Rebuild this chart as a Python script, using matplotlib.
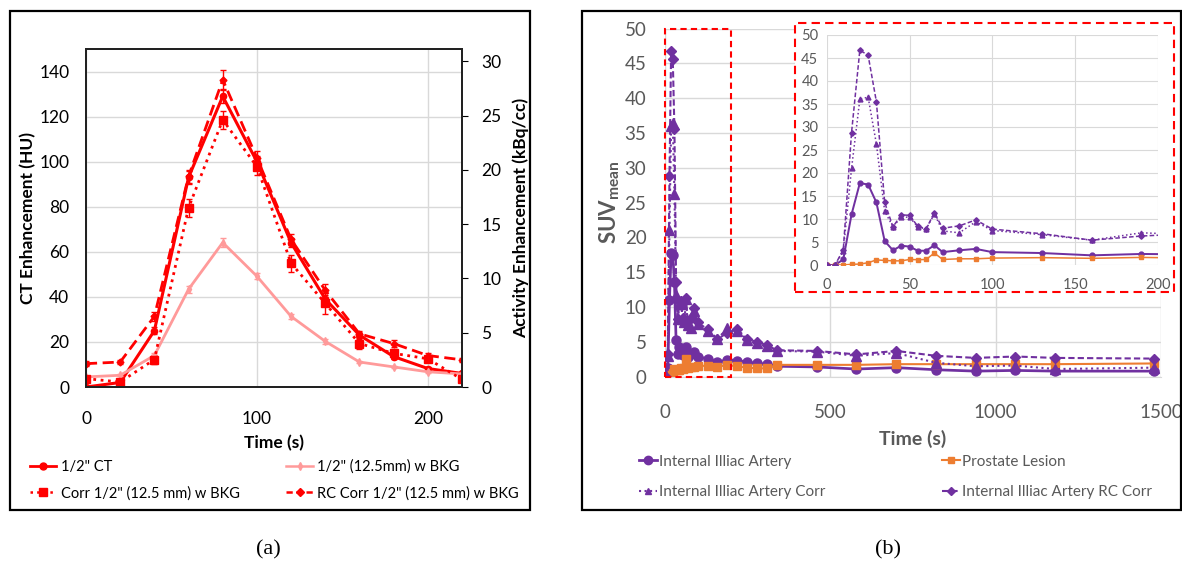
import matplotlib.pyplot as plt
from matplotlib.patches import Rectangle
from matplotlib.lines import Line2D

plt.rcParams['font.family'] = ['Lato', 'DejaVu Sans']

# ---------- panel (a) data ----------
t_a = [0, 20, 40, 60, 80, 100, 120, 140, 160, 180, 200, 220]
ct_hu = [0, 2, 25, 93, 129, 100, 64, 39, 23, 13.5, 8.2, 6]
ct_err = [0.5, 0.5, 1.5, 3, 3, 2.5, 2, 2, 1.5, 1, 0.8, 0.5]
bkg_kbq = [0.93, 1.08, 2.9, 9.0, 13.3, 10.2, 6.5, 4.2, 2.3, 1.85, 1.4, 1.2]
bkg_err = [0.1, 0.1, 0.2, 0.3, 0.4, 0.3, 0.2, 0.2, 0.1, 0.1, 0.1, 0.1]
corr_kbq = [0.77, 0.46, 2.53, 16.5, 24.6, 20.3, 11.4, 7.7, 4.0, 3.1, 2.6, 0.7]
corr_err = [0.2, 0.2, 0.4, 0.8, 0.8, 0.8, 0.8, 1.0, 0.5, 0.4, 0.3, 0.2]
rc_kbq = [2.15, 2.3, 6.5, 19.4, 28.3, 21.1, 13.6, 8.9, 4.9, 4.0, 2.9, 2.5]
rc_err = [0.2, 0.2, 0.4, 0.6, 0.9, 0.6, 0.5, 0.6, 0.3, 0.3, 0.2, 0.2]

# ---------- panel (b) data ----------
t_b = [0, 5, 10, 15, 20, 25, 30, 35, 40, 45, 50, 55, 60, 65, 70, 80, 90, 100,
       130, 160, 190, 220, 250, 280, 310, 340, 460, 580, 700, 820, 940, 1060, 1180, 1480]
artery = [0, 0, 1.2, 11, 17.8, 17.5, 13.6, 5.2, 3.2, 4.2, 4.0, 3.1, 3.1, 4.3, 2.8, 3.2, 3.5, 2.8,
          2.6, 2.1, 2.4, 2.3, 2.1, 1.9, 1.8, 1.5, 1.4, 1.1, 1.3, 1.0, 0.8, 0.9, 0.8, 0.8]
lesion = [0, 0, 0, 0.15, 0.2, 0.5, 1.1, 1.0, 0.9, 0.9, 1.2, 1.15, 1.2, 2.6, 1.2, 1.35, 1.35, 1.5,
          1.6, 1.45, 1.65, 1.5, 1.3, 1.2, 1.2, 1.7, 1.7, 1.7, 1.8, 1.8, 1.8, 1.8, 1.8, 1.9]
artery_corr = [0, 0, 3.0, 21, 36, 36.5, 26.3, 11.7, 8.3, 10.4, 10.4, 8.3, 7.8, 11.1, 7.4, 7.0, 9.4, 7.5,
               6.6, 5.4, 7.0, 6.6, 5.3, 4.9, 4.4, 3.7, 3.6, 3.0, 3.4, 2.0, 1.5, 1.6, 1.1, 1.3]
artery_rc = [0, 0, 3.3, 28.8, 46.7, 45.6, 35.5, 13.6, 8.3, 10.9, 10.8, 8.4, 7.9, 11.3, 8.0, 8.5, 9.8, 7.8,
             6.8, 5.4, 6.3, 6.8, 5.4, 5.0, 4.5, 3.8, 3.7, 3.2, 3.7, 3.0, 2.7, 2.9, 2.7, 2.6]

RED = '#FF0000'
PINK = '#FF9A9A'
PURPLE = '#7030A0'
ORANGE = '#ED7D31'
GRID = '#D9D9D9'
GREY = '#595959'

W, H = 1182, 565
fig = plt.figure(figsize=(W / 100, H / 100), dpi=100)


def fbox(x0, y0, x1, y1):
    # pixel box (top-left origin) -> figure fraction rect
    return [x0 / W, 1 - y1 / H, (x1 - x0) / W, (y1 - y0) / H]


# panel frames
for x0, x1 in [(10, 530), (582, 1181)]:
    fig.patches.append(Rectangle((x0 / W, 1 - 510 / H), (x1 - x0) / W, 499 / H,
                                 transform=fig.transFigure, fill=False,
                                 edgecolor='black', linewidth=1.6))

# ================= panel (a) =================
ax = fig.add_axes(fbox(86, 49, 462, 387))
ax2 = ax.twinx()
ax.set_xlim(0, 220)
ax.set_ylim(0, 150)
ax2.set_ylim(0, 150 * 0.2075)
ax.set_xticks([0, 100, 200])
ax.set_yticks(range(0, 141, 20))
ax2.set_yticks(range(0, 31, 5))
ax.grid(True, color=GRID, linewidth=1)
ax.set_axisbelow(True)
for s in list(ax.spines.values()) + list(ax2.spines.values()):
    s.set_color('#222222')
    s.set_linewidth(1.4)
ax.tick_params(axis='both', length=0, labelsize=12.5, pad=12)
ax.tick_params(axis='x', pad=17)
ax2.tick_params(axis='y', length=4, direction='out', labelsize=12.5, pad=10)
ax.set_xlabel('Time (s)', fontsize=12.5, fontweight='bold', labelpad=6)
ax.set_ylabel('CT Enhancement (HU)', fontsize=12.5, fontweight='bold', labelpad=2)
ax2.set_ylabel('Activity Enhancement (kBq/cc)', fontsize=12.5, fontweight='bold', labelpad=8)

ax.errorbar(t_a, ct_hu, yerr=ct_err, color=RED, lw=2.2, marker='o', ms=4.5,
            capsize=2, elinewidth=1, zorder=5)
ax2.errorbar(t_a, bkg_kbq, yerr=bkg_err, color=PINK, lw=2, marker='d', ms=4,
             capsize=2, elinewidth=1)
ax2.errorbar(t_a, corr_kbq, yerr=corr_err, color=RED, lw=2, ls=':', marker='s', ms=6,
             capsize=2, elinewidth=1)
ax2.errorbar(t_a, rc_kbq, yerr=rc_err, color=RED, lw=2, ls=(0, (4, 2)), marker='D', ms=3.5,
             capsize=2, elinewidth=1)

ha = [Line2D([], [], color=RED, lw=2, marker='o', ms=5),
      Line2D([], [], color=RED, lw=1.8, ls=':', marker='s', ms=6),
      Line2D([], [], color=PINK, lw=1.8, marker='d', ms=4),
      Line2D([], [], color=RED, lw=1.8, ls=(0, (2.5, 1.5)), marker='D', ms=4)]
la = ['1/2" CT', 'Corr 1/2" (12.5 mm) w BKG', '1/2" (12.5mm) w BKG', 'RC Corr 1/2" (12.5 mm) w BKG']
fig.legend(ha, la, ncol=2, loc='center left', bbox_to_anchor=(20 / W, 1 - 480 / H),
           frameon=False, fontsize=10.5, handlelength=1.8, handletextpad=0.3,
           columnspacing=3.2, labelspacing=0.85, borderpad=0.2)

# ================= panel (b) =================
bx = fig.add_axes(fbox(664.5, 28.5, 1161, 376.7))
bx.set_xlim(0, 1500)
bx.set_ylim(0, 50)
bx.set_xticks([0, 500, 1000, 1500])
bx.set_yticks(range(0, 51, 5))
bx.grid(True, color=GRID, linewidth=1)
bx.set_axisbelow(True)
for k in ['top', 'right', 'left']:
    bx.spines[k].set_visible(False)
bx.spines['bottom'].set_color(GRID)
bx.tick_params(axis='both', length=0, labelsize=13.5, labelcolor=GREY, pad=13)
bx.tick_params(axis='x', pad=20)
bx.set_xlabel('Time (s)', fontsize=14, fontweight='bold', color=GREY, labelpad=6)
bx.set_ylabel(r'SUV$_{\mathregular{mean}}$', fontsize=16, fontweight='bold', color=GREY,
              labelpad=2)


def draw_b(a, ms, lw):
    a.plot(t_b, artery, color=PURPLE, lw=lw * 1.3, marker='o', ms=ms)
    a.plot(t_b, lesion, color=ORANGE, lw=lw, marker='s', ms=ms * 0.85)
    a.plot(t_b, artery_corr, color=PURPLE, lw=lw, ls=':', marker='^', ms=ms)
    a.plot(t_b, artery_rc, color=PURPLE, lw=lw, ls=(0, (3, 1.5)), marker='D', ms=ms * 0.8)


draw_b(bx, 6.5, 1.5)
bx.add_patch(Rectangle((0, 0), 200, 50, fill=False, edgecolor=RED, lw=1.5,
                       ls=(0, (3, 2)), clip_on=False, zorder=6))

# inset background with red dashed frame
bg = fig.add_axes(fbox(795, 23, 1174, 292))
bg.set_xticks([])
bg.set_yticks([])
for s in bg.spines.values():
    s.set_visible(False)
bg.add_patch(Rectangle((0, 0), 1, 1, transform=bg.transAxes, facecolor='white',
                       edgecolor=RED, lw=1.5, ls=(0, (4, 2.5)), clip_on=False))

ins = fig.add_axes(fbox(826.7, 35, 1158, 265))
ins.patch.set_alpha(0)
ins.set_xlim(0, 200)
ins.set_ylim(0, 50)
ins.set_xticks(range(0, 201, 50))
ins.set_yticks(range(0, 51, 5))
ins.grid(True, color=GRID, linewidth=0.8)
ins.set_axisbelow(True)
for s in ins.spines.values():
    s.set_visible(False)
ins.tick_params(axis='both', length=0, labelsize=10.5, labelcolor=GREY, pad=6)
ins.tick_params(axis='x', pad=9)
draw_b(ins, 3.5, 1.1)

hb = [Line2D([], [], color=PURPLE, lw=2, marker='o', ms=6),
      Line2D([], [], color=PURPLE, lw=1.5, ls=':', marker='^', ms=5),
      Line2D([], [], color=ORANGE, lw=1.5, marker='s', ms=5),
      Line2D([], [], color=PURPLE, lw=1.5, ls=(0, (3, 1.5)), marker='D', ms=4)]
lb = ['Internal Illiac Artery', 'Internal Illiac Artery Corr', 'Prostate Lesion',
      'Internal Illiac Artery RC Corr']
leg = fig.legend(hb, lb, ncol=2, loc='center left', bbox_to_anchor=(628 / W, 1 - 477 / H),
                 frameon=False, fontsize=11, handlelength=1.2, handletextpad=0.15,
                 columnspacing=7.6, labelspacing=1.1, borderpad=0.2)
for txt in leg.get_texts():
    txt.set_color(GREY)

# captions
fig.text(268 / W, 1 - 550 / H, '(a)', ha='center', va='center', fontsize=16,
         family='Liberation Serif')
fig.text(888 / W, 1 - 550 / H, '(b)', ha='center', va='center', fontsize=16,
         family='Liberation Serif')

fig.savefig('out.png', dpi=100)
